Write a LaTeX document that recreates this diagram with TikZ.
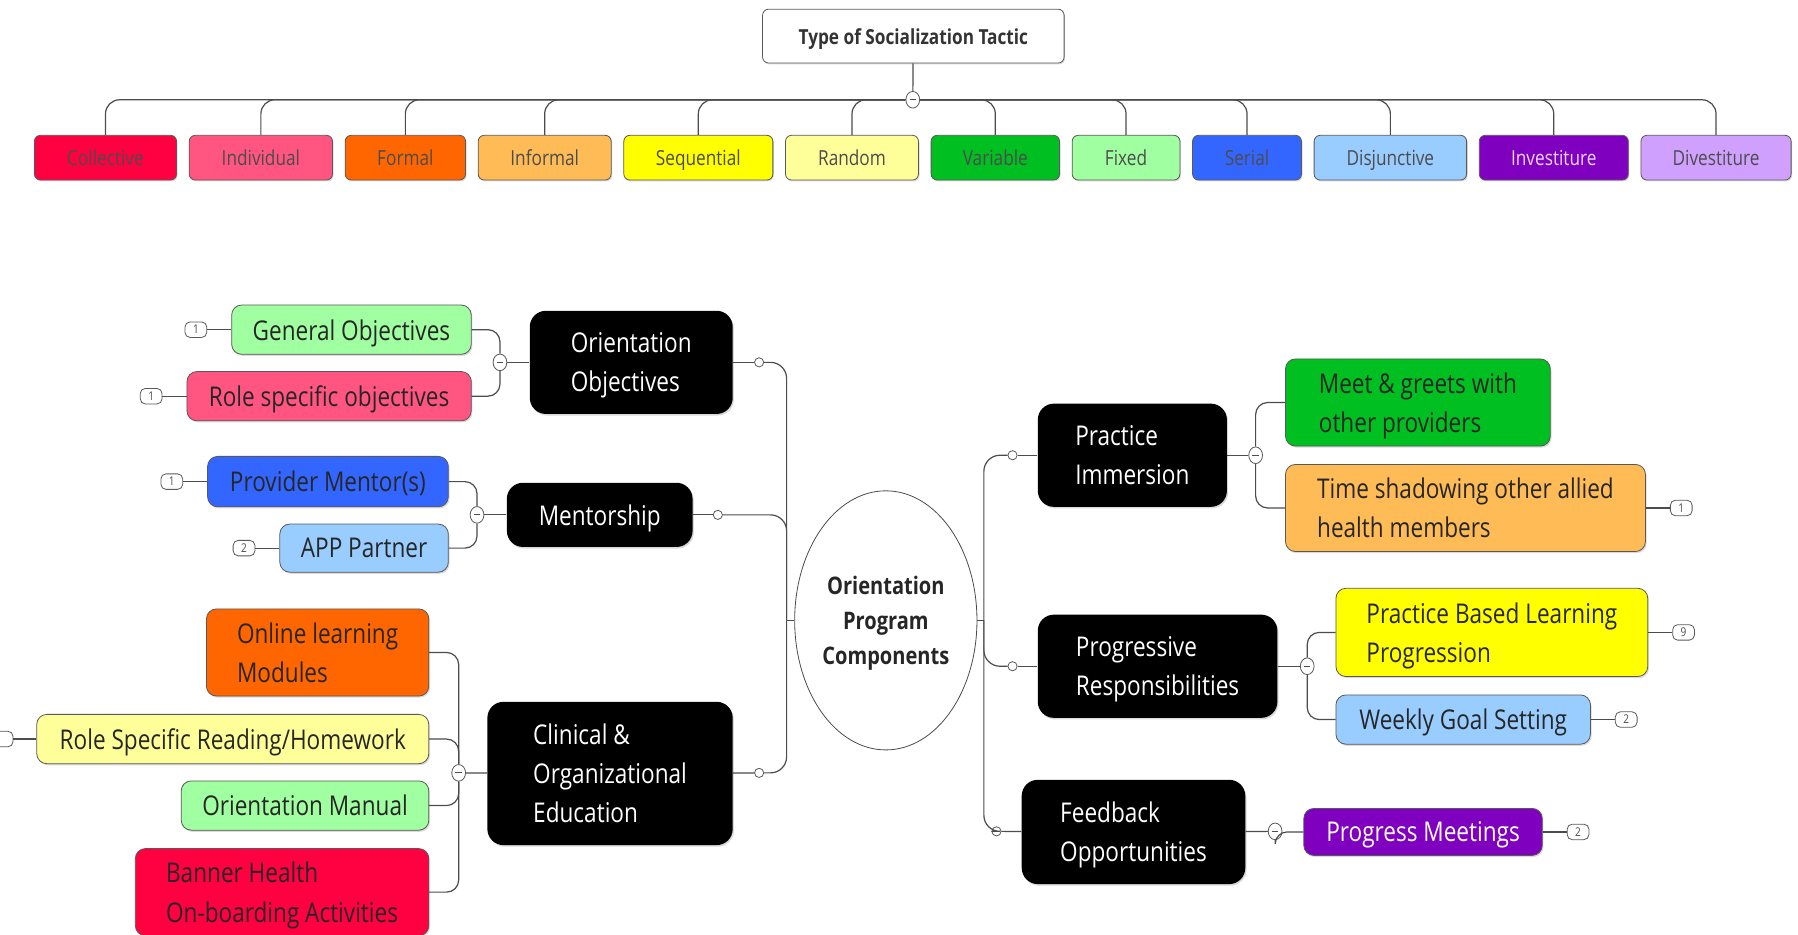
\documentclass[tikz,border=0pt]{standalone}
\usepackage{fontspec}
\setmainfont{Open Sans}[FakeStretch=0.83]
\usetikzlibrary{positioning, shapes.geometric, shadows}

\definecolor{crimson}{HTML}{FF0040}
\definecolor{rose}{HTML}{FF5580}
\definecolor{tangerine}{HTML}{FF6600}
\definecolor{apricot}{HTML}{FFBB55}
\definecolor{lemon}{HTML}{FFFF00}
\definecolor{cream}{HTML}{FFFF99}
\definecolor{grass}{HTML}{00BF20}
\definecolor{mint}{HTML}{A0FFA0}
\definecolor{royal}{HTML}{3366FF}
\definecolor{sky}{HTML}{99CCFF}
\definecolor{violetc}{HTML}{7F00BF}
\definecolor{lilac}{HTML}{D0A0FF}
\definecolor{lilactext}{HTML}{EED8FF}

\tikzset{
	conn/.style={
		draw=black!70,
		line width=0.6pt
	},
	tactic/.style={
		draw=black!65,
		rounded corners=3pt,
		minimum height=0.78cm,
		inner sep=0pt,
		text=black!70,
		text depth=0pt,
		font=\fontsize{10.3}{12}\selectfont,
		drop shadow={shadow xshift=0.5pt, shadow yshift=-0.7pt, opacity=0.3}
	},
	heading/.style={
		tactic,
		fill=white,
		text=black!80,
		font=\bfseries\fontsize{10.3}{12}\selectfont
	},
	topic/.style={
		fill=black,
		rounded corners=8pt,
		inner sep=0pt,
		align=left,
		text=white,
		text depth=0pt,
		font=\fontsize{13.5}{19.4}\selectfont,
		drop shadow={shadow xshift=0.6pt, shadow yshift=-0.8pt, opacity=0.3}
	},
	leaf/.style={
		draw=black!65,
		rounded corners=5pt,
		inner sep=0pt,
		align=left,
		minimum height=0.86cm,
		text=black!85,
		text depth=0pt,
		font=\fontsize{13.5}{19.4}\selectfont,
		drop shadow={shadow xshift=0.6pt, shadow yshift=-0.8pt, opacity=0.3}
	},
	hub/.style={
		draw=black!70,
		ellipse,
		inner sep=0pt,
		minimum width=3.18cm,
		minimum height=4.52cm,
		align=center,
		text=black!85,
		text depth=0pt,
		font=\bfseries\fontsize{12}{17.4}\selectfont
	},
	collapse/.style={
		draw=black!65,
		fill=white,
		ellipse,
		inner sep=0pt,
		minimum width=0.24cm,
		minimum height=0.29cm,
		path picture={\draw[black!70, line width=0.6pt]
			([xshift=-1.6pt]path picture bounding box.center) --
			([xshift=1.6pt]path picture bounding box.center);}
	},
	joint/.style={
		draw=black!65,
		fill=white,
		circle,
		inner sep=0pt,
		minimum size=0.16cm
	},
	counttag/.style={
		draw=black!65,
		fill=white,
		rounded corners=2.5pt,
		inner sep=0pt,
		minimum width=0.38cm,
		minimum height=0.27cm,
		text=black!70,
		font=\fontsize{6}{6}\selectfont
	}
}

\begin{document}
\begin{tikzpicture}[x=0.02cm, y=-0.02cm]
	\useasboundingbox (0,0) rectangle (1568,815);

	% socialization tactics
	\node[heading, minimum width=5.26cm, minimum height=0.94cm] (tactic) at (796.5,31.5) {Type of Socialization Tactic};
	\node[collapse] (tactic-col) at (796,87) {};
	\draw[conn] (tactic) -- (tactic-col);

	\foreach \nm/\txt/\cx/\w/\col/\tc in {
		coll/Collective/92/2.48/crimson/black!70,
		indiv/Individual/227.5/2.5/rose/black!70,
		form/Formal/353.5/2.1/tangerine/black!70,
		inform/Informal/475/2.32/apricot/black!70,
		seq/Sequential/609/2.6/lemon/black!70,
		rand/Random/743/2.32/cream/black!70,
		var/Variable/868/2.24/grass/black!70,
		fix/Fixed/982/1.88/mint/black!70,
		ser/Serial/1087.5/1.9/royal/black!70,
		disj/Disjunctive/1212.5/2.66/sky/black!70,
		invest/Investiture/1355/2.6/violetc/lilactext,
		divest/Divestiture/1496.5/2.62/lilac/black!70
	}{
		\node[tactic, fill=\col, text=\tc, minimum width=\w cm] (\nm) at (\cx,137.5) {\txt};
		\draw[conn, rounded corners=7pt] (tactic-col) -| (\nm.north);
	}

	% orientation program
	\node[hub] (hub) at (772.5,541) {Orientation\\Program\\Components};
	\coordinate (lj) at (686,541);
	\coordinate (rj) at (858,541);
	\draw[conn] (lj) -- (hub);
	\draw[conn] (hub) -- (rj);

	% left branches
	\node[topic, minimum width=3.54cm, minimum height=1.8cm] (obj) at (550.5,316) {Orientation\\Objectives};
	\node[topic, minimum width=3.24cm, minimum height=1.12cm] (ment) at (523,449) {Mentorship};
	\node[topic, minimum width=4.28cm, minimum height=2.5cm] (clin) at (532,674.5) {Clinical \&\\Organizational\\Education};
	\node[joint] (obj-jt) at (662,316) {};
	\node[joint] (ment-jt) at (626,449) {};
	\node[joint] (clin-jt) at (662,674) {};

	% right branches
	\node[topic, minimum width=3.3cm, minimum height=1.8cm] (imm) at (987.5,397) {Practice\\Immersion};
	\node[topic, minimum width=4.18cm, minimum height=1.8cm] (resp) at (1009.5,581) {Progressive\\Responsibilities};
	\node[topic, minimum width=3.9cm, minimum height=1.82cm] (feed) at (988.5,725.5) {Feedback\\Opportunities};
	\node[joint] (imm-jt) at (883,397) {};
	\node[joint] (resp-jt) at (883,581) {};
	\node[joint] (feed-jt) at (869,725) {};

	\foreach \br in {obj, ment, clin} {
		\draw[conn] (\br) -- (\br-jt);
		\draw[conn, rounded corners=8pt] (lj) |- (\br-jt);
	}
	\foreach \br in {imm, resp, feed} {
		\draw[conn] (\br) -- (\br-jt);
		\draw[conn, rounded corners=8pt] (rj) |- (\br-jt);
	}

	% objectives
	\node[collapse] (obj-col) at (436,316) {};
	\node[leaf, fill=mint, minimum width=4.18cm] (gen) at (306.5,287.5) {General Objectives};
	\node[leaf, fill=rose, minimum width=4.96cm] (role) at (287,345.5) {Role specific objectives};

	% mentorship
	\node[collapse] (ment-col) at (416,449) {};
	\node[leaf, fill=royal, minimum width=4.2cm, minimum height=0.88cm] (prov) at (286,420) {Provider Mentor(s)};
	\node[leaf, fill=sky, minimum width=2.94cm, minimum height=0.84cm] (app) at (317.5,478) {APP Partner};

	% education
	\node[collapse] (clin-col) at (400,674) {};
	\node[leaf, fill=tangerine, minimum width=3.88cm, minimum height=1.52cm] (online) at (277,569) {Online learning\\Modules};
	\node[leaf, fill=cream, minimum width=6.84cm] (read) at (203,644.5) {Role Specific Reading/Homework};
	\node[leaf, fill=mint, minimum width=4.32cm] (manual) at (266,702.5) {Orientation Manual};
	\node[leaf, fill=crimson, minimum width=5.12cm, minimum height=1.52cm] (banner) at (246,778) {Banner Health\\On-boarding Activities};

	% immersion
	\node[collapse] (imm-col) at (1095,397) {};
	\node[leaf, fill=grass, minimum width=4.62cm, minimum height=1.52cm] (meet) at (1236.5,351) {Meet \& greets with\\other providers};
	\node[leaf, fill=apricot, minimum width=6.28cm, minimum height=1.52cm] (time) at (1278,443) {Time shadowing other allied\\health members};

	% responsibilities
	\node[collapse] (resp-col) at (1140,581) {};
	\node[leaf, fill=lemon, minimum width=5.44cm, minimum height=1.54cm] (pbl) at (1301,551.5) {Practice Based Learning\\Progression};
	\node[leaf, fill=sky, minimum width=4.44cm] (weekly) at (1276,627.5) {Weekly Goal Setting};

	% feedback
	\node[collapse] (feed-col) at (1112,725) {};
	\node[leaf, fill=violetc, text=white, minimum width=4.16cm, minimum height=0.82cm] (prog) at (1241,725.5) {Progress Meetings};

	% child connections
	\foreach \pa/\kids in {obj/{gen,role}, ment/{prov,app}, clin/{online,read,manual,banner}, imm/{meet,time}, resp/{pbl,weekly}, feed/{prog}} {
		\draw[conn] (\pa) -- (\pa-col);
		\foreach \ch in \kids
			\draw[conn, rounded corners=6pt] (\pa-col) |- (\ch);
	}

	% count tags
	\foreach \ch/\n in {gen/1, role/1, prov/1, app/2} {
		\node[counttag, left=0.42cm of \ch] (\ch-tag) {\n};
		\draw[conn] (\ch-tag) -- (\ch);
	}
	\node[counttag, left=0.4cm of read] (read-tag) {};
	\draw[conn] (read-tag) -- (read);
	\foreach \ch/\n in {time/1, pbl/9, weekly/2, prog/2} {
		\node[counttag, right=0.42cm of \ch] (\ch-tag) {\n};
		\draw[conn] (\ch) -- (\ch-tag);
	}
\end{tikzpicture}
\end{document}
